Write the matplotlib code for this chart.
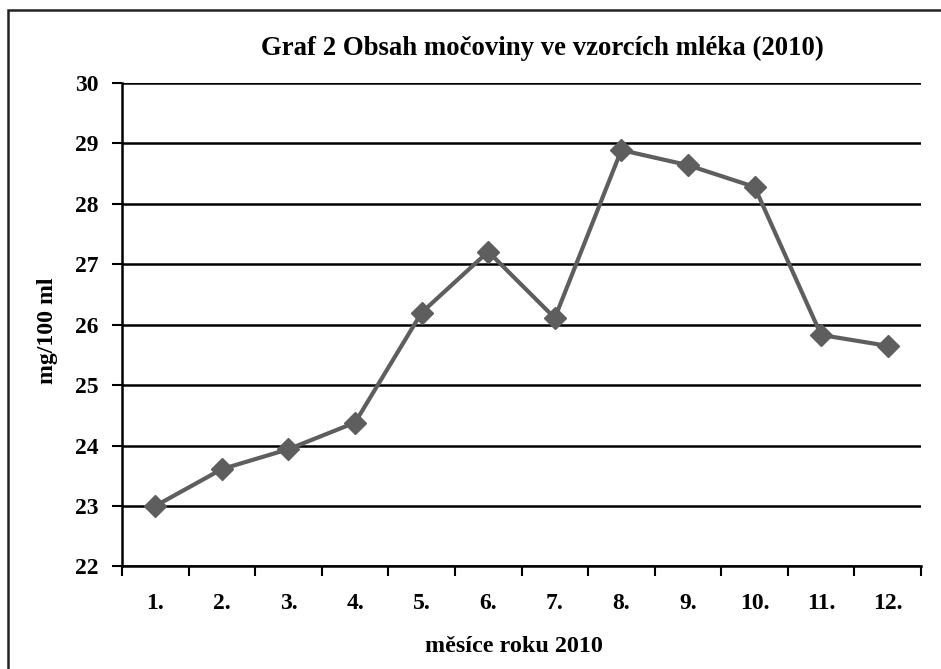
import matplotlib
matplotlib.use('Agg')
import matplotlib.pyplot as plt
from matplotlib.patches import Rectangle
from matplotlib.ticker import FixedLocator, NullFormatter

# monthly urea content in milk samples, 2010
months = [1, 2, 3, 4, 5, 6, 7, 8, 9, 10, 11, 12]
month_labels = ['1.', '2.', '3.', '4.', '5.', '6.', '7.', '8.', '9.', '10.', '11.', '12.']
urea = [23.0, 23.61, 23.94, 24.38, 26.2, 27.21, 26.11, 28.89, 28.64, 28.28, 25.83, 25.65]
y_ticks = [22, 23, 24, 25, 26, 27, 28, 29, 30]

plt.rcParams['font.family'] = ['Liberation Serif', 'DejaVu Serif']
plt.rcParams['font.weight'] = 'bold'

fig = plt.figure(figsize=(9.41, 6.69), dpi=100)
ax = fig.add_axes([122 / 941, 1 - 566.4 / 669, 799 / 941, (566.4 - 83) / 669])

ax.plot(months, urea, color='#5e5e5e', lw=3, marker='D', ms=11, zorder=3)

ax.set_xlim(0.5, 12.5)
ax.set_ylim(22, 30)
ax.set_yticks(y_ticks)
ax.set_yticklabels([str(v) for v in y_ticks], fontsize=17, fontweight='bold')
ax.set_xticks(months)
ax.set_xticklabels(month_labels, fontsize=17, fontweight='bold')
ax.tick_params(axis='x', which='major', length=0, pad=19)
ax.xaxis.set_minor_locator(FixedLocator([m + 0.5 for m in range(0, 13)]))
ax.xaxis.set_minor_formatter(NullFormatter())
ax.tick_params(axis='x', which='minor', length=7, width=1.5, direction='out')
ax.tick_params(axis='y', length=7, width=1.5, direction='out', pad=10)

ax.grid(axis='y', color='black', lw=1.8)
ax.set_axisbelow(True)
for s in ['top', 'right']:
    ax.spines[s].set_visible(False)
for s in ['left', 'bottom']:
    ax.spines[s].set_linewidth(1.8)

fig.text(542 / 941, 1 - 48 / 669, 'Graf 2 Obsah močoviny ve vzorcích mléka (2010)',
         ha='center', va='center', fontsize=19.3, fontweight='bold')
fig.text(514 / 941, 1 - 646 / 669, 'měsíce roku 2010',
         ha='center', va='center', fontsize=17.4, fontweight='bold')
fig.text(47 / 941, 1 - 331 / 669, 'mg/100 ml', rotation=90,
         ha='center', va='center', fontsize=17.2, fontweight='bold')

# outer frame of the chart area
fig.patches.append(Rectangle((7.5 / 941, -0.1), 2, 1.1 - 10 / 669, transform=fig.transFigure,
                             fill=False, ec='#222222', lw=1.8))

fig.savefig('out.png', dpi=100)
